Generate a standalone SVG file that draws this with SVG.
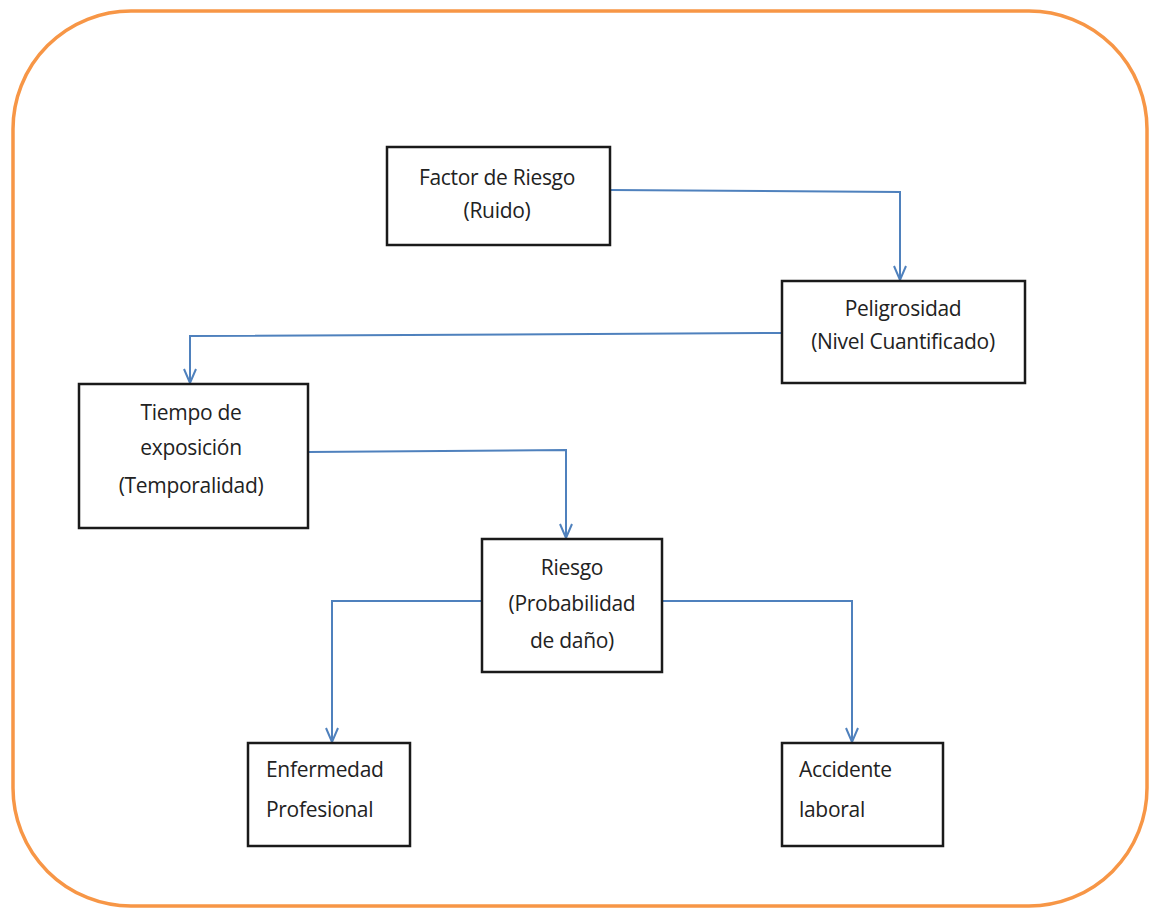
<svg xmlns="http://www.w3.org/2000/svg" width="1149" height="909" viewBox="0 0 1149 909">
<style>
.frame{fill:#fff;stroke:#F79646;stroke-width:3.5}
.box{fill:#fff;stroke:#1a1a1a;stroke-width:2.5}
.t{font-family:"Open Sans","Liberation Sans",sans-serif;font-size:21px;fill:#222;letter-spacing:-0.3px}
.c{text-anchor:middle}
.conn{fill:none;stroke:#4F81BD;stroke-width:2}
</style>
<defs>
<marker id="arr" markerWidth="16" markerHeight="14" refX="15" refY="7" orient="auto" markerUnits="userSpaceOnUse" viewBox="0 0 16 14">
<path d="M1,1 L15,7 L1,13" fill="none" stroke="#4F81BD" stroke-width="2"/>
</marker>
</defs>
<rect width="1149" height="909" fill="#fff"/>
<rect class="frame" x="13" y="11" width="1134" height="895" rx="118" ry="118"/>
<g id="connectors">
<path class="conn" d="M610,190 L900,192 L900,280" marker-end="url(#arr)"/>
<path class="conn" d="M782,333 L190,336 L190,383" marker-end="url(#arr)"/>
<path class="conn" d="M308,452 L566,450 L566,538" marker-end="url(#arr)"/>
<path class="conn" d="M482,601 L332,601 L332,742" marker-end="url(#arr)"/>
<path class="conn" d="M662,601 L852,601 L852,742" marker-end="url(#arr)"/>
</g>
<g id="factor">
<rect class="box" x="387" y="147" width="223" height="98"/>
<text class="t c" x="497" y="185">Factor de Riesgo</text>
<text class="t c" x="497" y="218">(Ruido)</text>
</g>
<g id="peligrosidad">
<rect class="box" x="782" y="281" width="243" height="102"/>
<text class="t c" x="903" y="316">Peligrosidad</text>
<text class="t c" x="903" y="349">(Nivel Cuantificado)</text>
</g>
<g id="tiempo">
<rect class="box" x="79" y="384" width="229" height="144"/>
<text class="t c" x="191" y="420">Tiempo de</text>
<text class="t c" x="191" y="455">exposición</text>
<text class="t c" x="191" y="493">(Temporalidad)</text>
</g>
<g id="riesgo">
<rect class="box" x="482" y="539" width="180" height="133"/>
<text class="t c" x="572" y="575">Riesgo</text>
<text class="t c" x="572" y="611">(Probabilidad</text>
<text class="t c" x="572" y="648">de daño)</text>
</g>
<g id="enfermedad">
<rect class="box" x="248" y="743" width="162" height="103"/>
<text class="t" x="266" y="777">Enfermedad</text>
<text class="t" x="266" y="817">Profesional</text>
</g>
<g id="accidente">
<rect class="box" x="782" y="743" width="161" height="103"/>
<text class="t" x="799" y="777">Accidente</text>
<text class="t" x="799" y="817">laboral</text>
</g>
</svg>
